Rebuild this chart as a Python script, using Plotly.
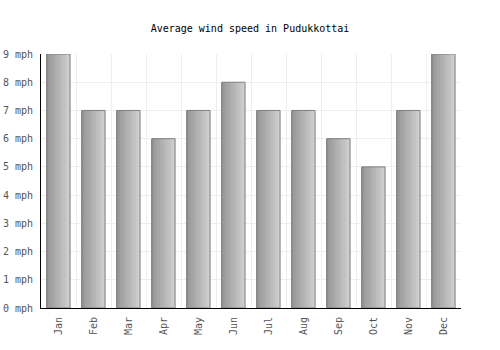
import plotly.graph_objects as go

months = ["Jan", "Feb", "Mar", "Apr", "May", "Jun", "Jul", "Aug", "Sep", "Oct", "Nov", "Dec"]
wind_mph = [9, 7, 7, 6, 7, 8, 7, 7, 6, 5, 7, 9]
y_ticks = list(range(0, 10))
y_labels = [f"{v} mph" for v in y_ticks]

xs = list(range(len(months)))
bar_w = 0.66
n_slices = 14
fig = go.Figure()

def lerp(a, b, t):
    return int(round(a + (b - a) * t))

c0 = (150, 150, 150)
c1 = (206, 206, 206)
sw = bar_w / n_slices
for i in range(n_slices):
    t = i / (n_slices - 1)
    col = f"rgb({lerp(c0[0], c1[0], t)},{lerp(c0[1], c1[1], t)},{lerp(c0[2], c1[2], t)})"
    fig.add_trace(go.Bar(
        x=xs, y=wind_mph, width=sw * 1.08, offset=-bar_w / 2 + i * sw,
        marker=dict(color=col, line=dict(width=0)), hoverinfo="skip", showlegend=False,
    ))

fig.add_trace(go.Bar(
    x=xs, y=wind_mph, width=bar_w,
    marker=dict(color="rgba(0,0,0,0)", line=dict(color="#808080", width=1)),
    showlegend=False,
))

tick_font = dict(family="DejaVu Sans Mono", size=10, color="#555555")
fig.update_layout(
    width=500, height=350, barmode="overlay",
    margin=dict(l=41, r=39, t=54, b=42),
    paper_bgcolor="white", plot_bgcolor="white",
    font=dict(family="DejaVu Sans Mono", size=10, color="#555555"),
    title=dict(text="Average wind speed in Pudukkottai", x=0.5, xanchor="center",
               y=1 - 28 / 350, yanchor="middle", font=dict(size=10, color="#000")),
    xaxis=dict(
        range=[-0.5, len(months) - 0.5], tickvals=xs, ticktext=months, tickangle=-90,
        showgrid=False, zeroline=False, showline=True, linecolor="#000", linewidth=1,
        ticks="", ticklen=0, automargin=False, ticklabelstandoff=4, tickfont=tick_font,
        minor=dict(tickvals=[x + 0.5 for x in xs], showgrid=True, gridcolor="#eeeeee", gridwidth=1),
    ),
    yaxis=dict(
        range=[0, 9], tickvals=y_ticks, ticktext=y_labels, showgrid=True,
        gridcolor="#eeeeee", zeroline=False, showline=True, linecolor="#000", linewidth=1,
        ticks="", ticklen=0, automargin=False, ticklabelstandoff=5, tickfont=tick_font,
    ),
)

fig.write_html("out.html")
